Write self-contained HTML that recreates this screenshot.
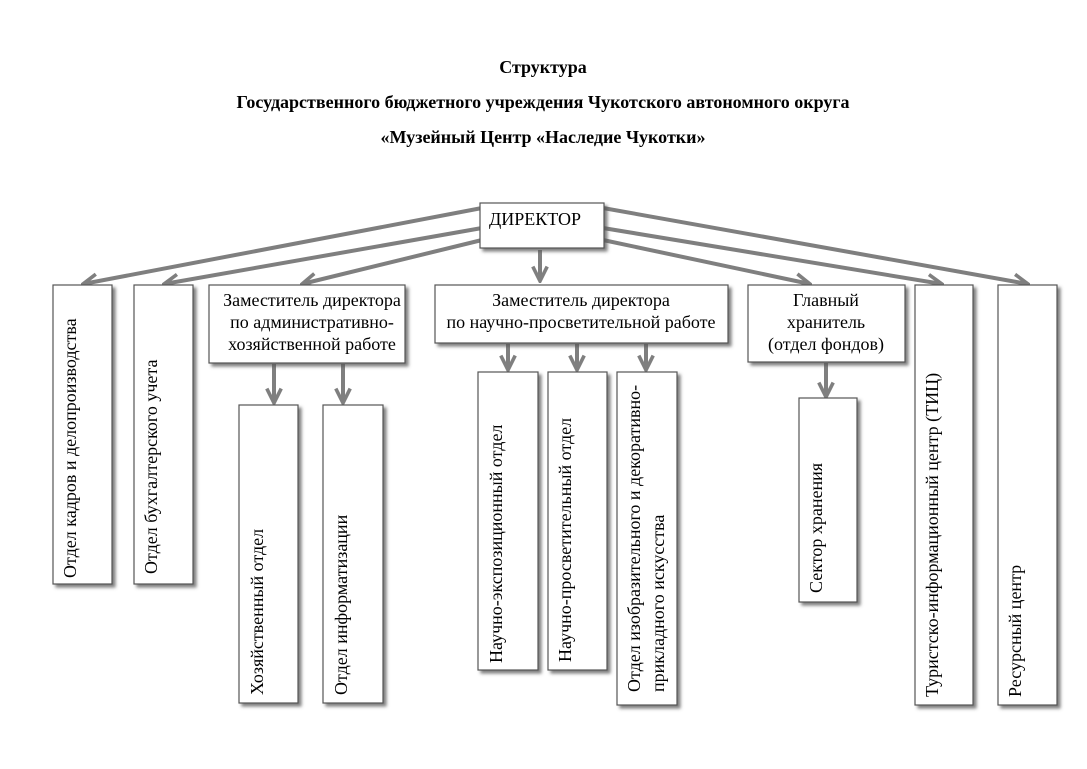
<!DOCTYPE html>
<html><head><meta charset="utf-8"><style>
html,body{margin:0;padding:0;background:#fff;}
svg{display:block;}
text{font-family:"Liberation Serif",serif;fill:#000;}
</style></head><body>
<svg width="1087" height="769" viewBox="0 0 1087 769" xmlns="http://www.w3.org/2000/svg">
<defs>
<filter id="sh" x="-20%" y="-20%" width="150%" height="150%">
<feDropShadow dx="3" dy="3" stdDeviation="1.6" flood-color="#555" flood-opacity="0.75"/>
</filter>
<marker id="ar" viewBox="0 0 10 10" refX="9" refY="5" markerWidth="4.5" markerHeight="4.5" orient="auto" markerUnits="strokeWidth">
<path d="M1,1 L9,5 L1,9" fill="none" stroke="#7f7f7f" stroke-width="2"/>
</marker>
</defs>
<g font-weight="bold" font-size="18" text-anchor="middle">
<text x="543" y="73">Структура</text>
<text x="543" y="108">Государственного бюджетного учреждения Чукотского автономного округа</text>
<text x="543" y="143">«Музейный Центр «Наследие Чукотки»</text>
</g>
<g stroke="#7f7f7f" stroke-width="4" fill="none" marker-end="url(#ar)">
<line x1="482" y1="208" x2="83" y2="284"/>
<line x1="482" y1="228" x2="164" y2="284"/>
<line x1="482" y1="240" x2="302" y2="284"/>
<line x1="540" y1="250" x2="540" y2="281"/>
<line x1="603" y1="240" x2="810" y2="284"/>
<line x1="603" y1="228" x2="942" y2="284"/>
<line x1="603" y1="208" x2="1028" y2="284"/>
<line x1="274" y1="364" x2="274" y2="403"/>
<line x1="343" y1="364" x2="343" y2="403"/>
<line x1="508" y1="344" x2="508" y2="370"/>
<line x1="577" y1="344" x2="577" y2="370"/>
<line x1="646" y1="344" x2="646" y2="370"/>
<line x1="826" y1="363" x2="826" y2="397"/>
</g>
<g fill="#fff" stroke="#555" stroke-width="1.2" filter="url(#sh)">
<rect x="480" y="203" width="124" height="45"/>
<rect x="53" y="285" width="59" height="299"/>
<rect x="134" y="285" width="59" height="299"/>
<rect x="209" y="285" width="196" height="78"/>
<rect x="435" y="285" width="293" height="58"/>
<rect x="748" y="285" width="157" height="77"/>
<rect x="915" y="285" width="58" height="420"/>
<rect x="998" y="285" width="59" height="420"/>
<rect x="239" y="405" width="59" height="298"/>
<rect x="323" y="405" width="60" height="298"/>
<rect x="478" y="372" width="60" height="298"/>
<rect x="548" y="372" width="59" height="298"/>
<rect x="617" y="372" width="60" height="333"/>
<rect x="799" y="398" width="58" height="204"/>
</g>
<g font-size="18">
<text x="489" y="225">ДИРЕКТОР</text>
<g text-anchor="middle">
<text x="312" y="306">Заместитель директора</text>
<text x="312" y="328">по административно-</text>
<text x="312" y="350">хозяйственной работе</text>
<text x="581" y="306">Заместитель директора</text>
<text x="581" y="328">по научно-просветительной работе</text>
<text x="826" y="306">Главный</text>
<text x="826" y="328">хранитель</text>
<text x="826" y="350">(отдел фондов)</text>
</g>
<text transform="translate(76,578) rotate(-90)">Отдел кадров и делопроизводства</text>
<text transform="translate(157,574) rotate(-90)">Отдел бухгалтерского учета</text>
<text transform="translate(263,695) rotate(-90)">Хозяйственный отдел</text>
<text transform="translate(347,695) rotate(-90)">Отдел информатизации</text>
<text transform="translate(502,663) rotate(-90)">Научно-экспозиционный отдел</text>
<text transform="translate(571,662) rotate(-90)">Научно-просветительный отдел</text>
<text transform="translate(640,692) rotate(-90)">Отдел изобразительного и декоративно-</text>
<text transform="translate(664,692) rotate(-90)">прикладного искусства</text>
<text transform="translate(822,593) rotate(-90)">Сектор хранения</text>
<text transform="translate(938,697) rotate(-90)">Туристско-информационный центр (ТИЦ)</text>
<text transform="translate(1021,697) rotate(-90)">Ресурсный центр</text>
</g>
</svg>
</body></html>
